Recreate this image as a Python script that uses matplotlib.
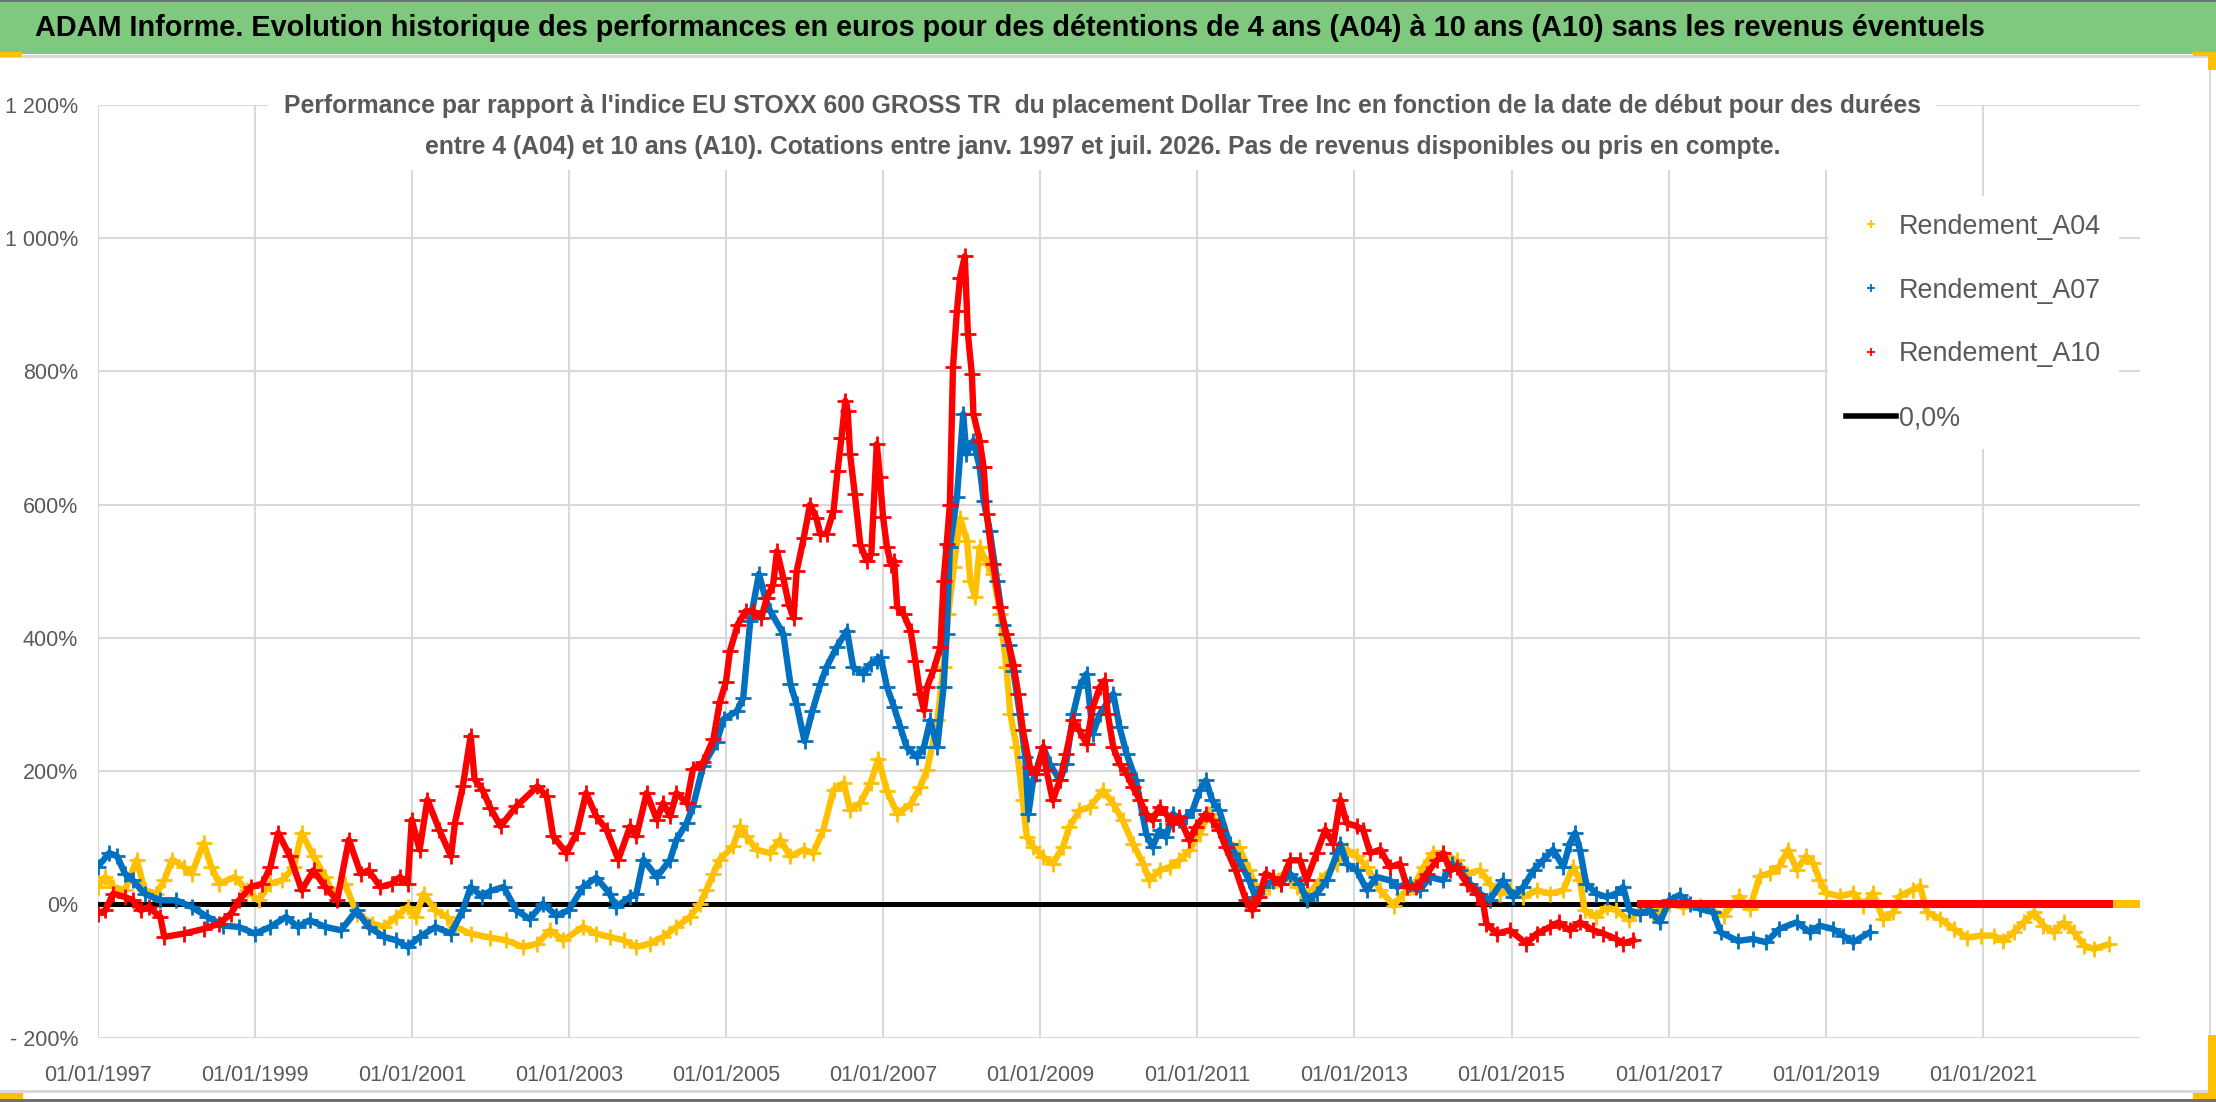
import matplotlib
matplotlib.use("Agg")
from matplotlib import pyplot as plt
from matplotlib.lines import Line2D
from matplotlib.patches import Rectangle

plt.rcParams['font.family'] = ['Liberation Sans', 'DejaVu Sans']

# (start year, performance %)
rdt_a04 = [
    (1997.0, 26), (1997.1, 41), (1997.2, 26), (1997.35, 21), (1997.5, 67), (1997.6, 21),
    (1997.75, 16), (1997.85, 36), (1997.95, 67), (1998.1, 56), (1998.2, 46), (1998.35, 92),
    (1998.45, 56), (1998.55, 31), (1998.75, 41), (1998.9, 21), (1999.05, 6), (1999.2, 31),
    (1999.35, 36), (1999.5, 56), (1999.6, 107), (1999.75, 72), (1999.9, 41), (2000.0, 16),
    (2000.15, 31), (2000.3, -14), (2000.5, -29), (2000.65, -34), (2000.8, -19), (2000.95, -4),
    (2001.05, -19), (2001.15, 16), (2001.3, -9), (2001.45, -19), (2001.55, -34), (2001.75, -44),
    (2002.0, -50), (2002.2, -54), (2002.42, -64), (2002.6, -59), (2002.76, -39), (2002.93, -54),
    (2003.18, -34), (2003.35, -44), (2003.52, -49), (2003.7, -54), (2003.86, -64), (2004.03, -59),
    (2004.2, -49), (2004.37, -34), (2004.54, -19), (2004.67, 1), (2004.75, 21), (2004.84, 46),
    (2004.92, 67), (2005.09, 87), (2005.18, 117), (2005.26, 102), (2005.39, 82), (2005.56, 77),
    (2005.69, 97), (2005.82, 72), (2005.99, 82), (2006.11, 77), (2006.24, 112), (2006.37, 172),
    (2006.5, 182), (2006.58, 142), (2006.71, 152), (2006.84, 182), (2006.94, 218), (2007.05, 170),
    (2007.18, 136), (2007.35, 150), (2007.47, 176), (2007.56, 201), (2007.69, 276), (2007.77, 356),
    (2007.83, 436), (2007.9, 506), (2007.98, 580), (2008.07, 545), (2008.11, 486), (2008.17, 461),
    (2008.23, 536), (2008.32, 511), (2008.4, 496), (2008.49, 436), (2008.57, 356), (2008.62, 286),
    (2008.7, 236), (2008.78, 156), (2008.83, 101), (2008.91, 86), (2009.04, 71), (2009.16, 61),
    (2009.29, 86), (2009.37, 116), (2009.5, 141), (2009.63, 146), (2009.8, 171), (2009.93, 151),
    (2010.05, 126), (2010.18, 91), (2010.31, 61), (2010.39, 36), (2010.52, 51), (2010.65, 56),
    (2010.77, 66), (2010.9, 81), (2011.03, 106), (2011.15, 136), (2011.28, 121), (2011.41, 91),
    (2011.53, 86), (2011.66, 51), (2011.79, 16), (2011.91, 26), (2012.04, 36), (2012.1, 46),
    (2012.27, 26), (2012.39, 11), (2012.56, 36), (2012.78, 61), (2012.9, 82), (2013.03, 72),
    (2013.16, 56), (2013.33, 21), (2013.5, -2), (2013.62, 16), (2013.75, 26), (2013.88, 56),
    (2014.0, 77), (2014.13, 77), (2014.3, 66), (2014.43, 46), (2014.6, 51), (2014.72, 31),
    (2014.85, 16), (2014.98, 21), (2015.15, 11), (2015.32, 21), (2015.49, 16), (2015.66, 21),
    (2015.78, 56), (2015.87, 36), (2015.93, -9), (2016.08, -19), (2016.21, -4), (2016.33, -9),
    (2016.5, -24), (2016.63, -9), (2016.8, -14), (2017.01, 1), (2017.18, -4), (2017.4, -2),
    (2017.7, -17), (2017.9, 12), (2018.03, -7), (2018.16, 42), (2018.29, 47), (2018.41, 57),
    (2018.52, 82), (2018.63, 52), (2018.75, 72), (2018.84, 62), (2018.92, 37), (2019.0, 17),
    (2019.18, 12), (2019.35, 17), (2019.48, -2), (2019.6, 17), (2019.73, -22), (2019.86, -12),
    (2019.94, 12), (2020.11, 22), (2020.2, 27), (2020.29, -12), (2020.46, -22), (2020.63, -37),
    (2020.8, -50), (2020.97, -47), (2021.14, -47), (2021.26, -55), (2021.39, -42), (2021.52, -27),
    (2021.65, -12), (2021.77, -32), (2021.9, -42), (2022.03, -27), (2022.16, -42), (2022.29, -62),
    (2022.41, -67), (2022.6, -60),
]

rdt_a07 = [
    (1997.0, 56), (1997.15, 77), (1997.25, 72), (1997.35, 46), (1997.45, 36), (1997.6, 16),
    (1997.8, 6), (1998.0, 6), (1998.2, -4), (1998.4, -19), (1998.6, -32), (1998.8, -34),
    (1999.0, -44), (1999.2, -34), (1999.4, -19), (1999.55, -34), (1999.7, -24), (1999.9, -34),
    (2000.1, -39), (2000.3, -9), (2000.45, -34), (2000.65, -49), (2000.8, -54), (2000.95, -64),
    (2001.1, -49), (2001.3, -34), (2001.5, -44), (2001.65, -9), (2001.75, 26), (2001.9, 11),
    (2002.0, 20), (2002.17, 26), (2002.33, -9), (2002.5, -22), (2002.67, 1), (2002.84, -17),
    (2003.0, -9), (2003.18, 26), (2003.35, 40), (2003.52, 16), (2003.6, -4), (2003.78, 11),
    (2003.86, 16), (2003.95, 67), (2004.12, 41), (2004.29, 67), (2004.37, 97), (2004.5, 122),
    (2004.58, 147), (2004.71, 208), (2004.88, 243), (2004.97, 278), (2005.14, 290), (2005.22, 310),
    (2005.31, 426), (2005.42, 496), (2005.5, 460), (2005.56, 441), (2005.73, 406), (2005.82, 331),
    (2005.9, 300), (2006.0, 245), (2006.1, 290), (2006.2, 330), (2006.28, 356), (2006.41, 386),
    (2006.54, 411), (2006.62, 356), (2006.75, 346), (2006.84, 361), (2006.92, 366), (2006.97, 371),
    (2007.05, 326), (2007.14, 296), (2007.22, 266), (2007.3, 236), (2007.43, 221), (2007.52, 236),
    (2007.6, 276), (2007.69, 236), (2007.77, 326), (2007.81, 406), (2007.85, 536), (2007.94, 611),
    (2008.02, 736), (2008.06, 676), (2008.15, 696), (2008.23, 656), (2008.28, 606), (2008.36, 560),
    (2008.45, 486), (2008.53, 420), (2008.6, 390), (2008.66, 350), (2008.74, 286), (2008.81, 221),
    (2008.85, 136), (2008.91, 186), (2009.04, 236), (2009.12, 211), (2009.25, 186), (2009.33, 211),
    (2009.42, 286), (2009.5, 326), (2009.59, 346), (2009.67, 256), (2009.76, 286), (2009.93, 316),
    (2010.01, 266), (2010.1, 226), (2010.22, 186), (2010.35, 106), (2010.43, 86), (2010.52, 111),
    (2010.6, 101), (2010.69, 136), (2010.77, 126), (2010.86, 131), (2010.94, 141), (2011.03, 171),
    (2011.11, 186), (2011.19, 156), (2011.28, 141), (2011.41, 91), (2011.53, 66), (2011.66, 36),
    (2011.74, 11), (2011.83, 26), (2011.96, 35), (2012.06, 31), (2012.18, 46), (2012.31, 31),
    (2012.39, 6), (2012.52, 16), (2012.65, 36), (2012.78, 77), (2012.82, 91), (2012.9, 61),
    (2013.03, 51), (2013.16, 21), (2013.28, 41), (2013.45, 36), (2013.54, 26), (2013.71, 31),
    (2013.83, 21), (2013.96, 41), (2014.13, 36), (2014.24, 61), (2014.34, 51), (2014.47, 31),
    (2014.6, 16), (2014.72, 6), (2014.89, 36), (2015.02, 11), (2015.15, 26), (2015.28, 51),
    (2015.4, 66), (2015.53, 82), (2015.66, 56), (2015.74, 91), (2015.81, 107), (2015.87, 82),
    (2015.95, 31), (2016.08, 16), (2016.21, 11), (2016.33, 16), (2016.42, 26), (2016.5, -9),
    (2016.63, -14), (2016.76, -9), (2016.89, -27), (2017.01, 6), (2017.14, 14), (2017.27, 1),
    (2017.4, -7), (2017.57, -12), (2017.66, -42), (2017.88, -55), (2018.07, -52), (2018.24, -57),
    (2018.41, -37), (2018.63, -27), (2018.8, -42), (2018.92, -32), (2019.09, -37), (2019.22, -47),
    (2019.35, -57), (2019.56, -42),
]

rdt_a10 = [
    (1997.0, -14), (1997.1, -9), (1997.2, 16), (1997.35, 11), (1997.45, 6), (1997.55, -9),
    (1997.65, -4), (1997.8, -19), (1997.85, -49), (1998.1, -44), (1998.35, -37), (1998.55, -29),
    (1998.7, -14), (1998.8, 6), (1998.95, 26), (1999.1, 31), (1999.2, 56), (1999.3, 107),
    (1999.45, 72), (1999.6, 21), (1999.75, 51), (1999.9, 26), (2000.05, 6), (2000.2, 97),
    (2000.35, 46), (2000.45, 51), (2000.6, 26), (2000.75, 31), (2000.85, 41), (2000.95, 31),
    (2001.0, 127), (2001.1, 82), (2001.2, 157), (2001.35, 112), (2001.5, 72), (2001.55, 122),
    (2001.65, 177), (2001.75, 253), (2001.8, 188), (2001.9, 172), (2002.0, 145), (2002.13, 117),
    (2002.33, 147), (2002.6, 177), (2002.72, 162), (2002.8, 102), (2002.97, 77), (2003.1, 107),
    (2003.22, 167), (2003.35, 132), (2003.48, 112), (2003.63, 67), (2003.78, 117), (2003.86, 102),
    (2003.99, 167), (2004.12, 127), (2004.2, 152), (2004.29, 132), (2004.37, 167), (2004.5, 152),
    (2004.58, 203), (2004.71, 213), (2004.84, 248), (2004.92, 303), (2005.0, 334), (2005.05, 380),
    (2005.15, 420), (2005.25, 440), (2005.35, 440), (2005.45, 430), (2005.52, 460), (2005.6, 480),
    (2005.65, 530), (2005.73, 490), (2005.8, 450), (2005.86, 430), (2005.9, 500), (2005.99, 550),
    (2006.07, 600), (2006.15, 580), (2006.2, 556), (2006.28, 556), (2006.37, 591), (2006.42, 650),
    (2006.47, 700), (2006.52, 756), (2006.55, 740), (2006.58, 676), (2006.64, 616), (2006.71, 540),
    (2006.79, 516), (2006.85, 526), (2006.92, 691), (2006.96, 641), (2007.0, 581), (2007.05, 536),
    (2007.1, 510), (2007.14, 516), (2007.18, 446), (2007.26, 436), (2007.35, 411), (2007.41, 366),
    (2007.47, 316), (2007.52, 291), (2007.56, 326), (2007.64, 351), (2007.73, 386), (2007.77, 486),
    (2007.81, 541), (2007.85, 600), (2007.89, 806), (2007.94, 891), (2007.98, 941), (2008.04, 973),
    (2008.08, 856), (2008.13, 796), (2008.15, 736), (2008.23, 696), (2008.28, 656), (2008.32, 586),
    (2008.4, 511), (2008.49, 446), (2008.57, 406), (2008.66, 360), (2008.72, 316), (2008.78, 261),
    (2008.87, 206), (2008.95, 196), (2009.04, 236), (2009.08, 201), (2009.16, 156), (2009.25, 186),
    (2009.33, 226), (2009.42, 276), (2009.5, 261), (2009.59, 241), (2009.67, 296), (2009.76, 326),
    (2009.82, 336), (2009.86, 286), (2009.93, 236), (2010.01, 211), (2010.1, 196), (2010.18, 176),
    (2010.27, 156), (2010.35, 136), (2010.43, 126), (2010.52, 146), (2010.6, 136), (2010.69, 121),
    (2010.77, 131), (2010.9, 96), (2010.98, 116), (2011.11, 136), (2011.19, 126), (2011.28, 111),
    (2011.36, 86), (2011.49, 51), (2011.62, 6), (2011.7, -9), (2011.79, 11), (2011.87, 46),
    (2011.96, 41), (2012.06, 30), (2012.18, 66), (2012.31, 66), (2012.39, 36), (2012.52, 77),
    (2012.63, 112), (2012.73, 91), (2012.82, 157), (2012.9, 122), (2013.03, 117), (2013.11, 112),
    (2013.2, 77), (2013.33, 82), (2013.45, 56), (2013.58, 61), (2013.67, 26), (2013.79, 26),
    (2013.92, 46), (2014.05, 66), (2014.13, 77), (2014.22, 51), (2014.3, 56), (2014.43, 31),
    (2014.56, 16), (2014.64, 1), (2014.68, -29), (2014.81, -44), (2014.98, -39), (2015.19, -59),
    (2015.32, -44), (2015.49, -34), (2015.6, -27), (2015.74, -39), (2015.87, -27), (2016.04, -39),
    (2016.17, -44), (2016.33, -52), (2016.42, -59), (2016.55, -54),
]

# periods where no value is available: shown as 0
a04_zero_years = [2022.62, 2023.0]
a07_zero_years = [2019.6, 2022.65]
a10_zero_years = [2016.6, 2022.65]

series_names = ["Rendement_A04", "Rendement_A07", "Rendement_A10"]
series_colors = ["#FFC000", "#0070C0", "#FF0000"]
zero_label = "0,0%"

x_tick_years = list(range(1997, 2022, 2))
x_tick_labels = ["01/01/%d" % y for y in x_tick_years]
y_ticks = [-200, 0, 200, 400, 600, 800, 1000, 1200]
y_tick_labels = ["- 200%", "0%", "200%", "400%", "600%", "800%", "1 000%", "1 200%"]

title = ("ADAM Informe. Evolution historique des performances en euros pour des "
         "détentions de 4 ans (A04) à 10 ans (A10) sans les revenus éventuels")
subtitle1 = ("Performance par rapport à l'indice EU STOXX 600 GROSS TR  du placement "
             "Dollar Tree Inc en fonction de la date de début pour des durées")
subtitle2 = ("entre 4 (A04) et 10 ans (A10). Cotations entre janv. 1997 et juil. 2026. "
             "Pas de revenus disponibles ou pris en compte.")

W, H = 2216, 1102
fig = plt.figure(figsize=(W / 100, H / 100), dpi=100)
fig.patch.set_facecolor("white")
renderer = fig.canvas.get_renderer()


def px(x0, y0, w, h, **kw):
    # rectangle in figure pixels, y measured from the top
    fig.patches.append(Rectangle((x0 / W, 1 - (y0 + h) / H), w / W, h / H,
                                 transform=fig.transFigure, figure=fig, **kw))


def fit_width(t, target):
    w = t.get_window_extent(renderer).width
    t.set_fontsize(t.get_fontsize() * target / w)


# title bar and sheet decorations
px(0, 0, W, 54, facecolor="#7FC97E", edgecolor="none", zorder=0)
px(0, 0, W, 2, facecolor="#707070", edgecolor="none", zorder=0)
px(0, 55, W, 3, facecolor="#D9D9D9", edgecolor="none", zorder=0)
px(0, 1090, W, 3, facecolor="#D9D9D9", edgecolor="none", zorder=0)
px(0, 1099, W, 3, facecolor="#707070", edgecolor="none", zorder=0)
px(2209, 58, 2, 1032, facecolor="#D9D9D9", edgecolor="none", zorder=0)
px(0, 52, 22, 5, facecolor="#FFC000", edgecolor="none", zorder=1)
px(2193, 52, 23, 4, facecolor="#FFC000", edgecolor="none", zorder=1)
px(2208, 52, 8, 18, facecolor="#FFC000", edgecolor="none", zorder=1)
px(2208, 1035, 8, 64, facecolor="#FFC000", edgecolor="none", zorder=1)
px(2193, 1093, 23, 6, facecolor="#FFC000", edgecolor="none", zorder=1)
px(0, 1093, 23, 6, facecolor="#FFC000", edgecolor="none", zorder=1)

t_title = fig.text(35 / W, 1 - 28 / H, title, ha="left", va="center", fontsize=20,
                   fontweight="bold", color="black")
fit_width(t_title, 1956)

ax = fig.add_axes([97.5 / W, 1 - 1037.5 / H, (2140 - 97.5) / W, (1037.5 - 105) / H])
ax.set_xlim(1997.0, 2023.0)
ax.set_ylim(-200, 1200)
for s in ax.spines.values():
    s.set_visible(False)
ax.set_xticks(x_tick_years)
ax.set_xticklabels(x_tick_labels)
ax.set_yticks(y_ticks)
ax.set_yticklabels(y_tick_labels)
ax.tick_params(length=0, colors="#595959", labelsize=15.5)
ax.tick_params(axis="x", pad=20)
ax.tick_params(axis="y", pad=14)
ax.grid(True, color="#D9D9D9", lw=1.5, zorder=0)
ax.set_axisbelow(True)

ax.axhline(0, color="black", lw=3.6, zorder=2)

zero_years = [a04_zero_years, a07_zero_years, a10_zero_years]
for k, pts in enumerate([rdt_a04, rdt_a07, rdt_a10]):
    xs = [p[0] for p in pts]
    ys = [p[1] for p in pts]
    c = series_colors[k]
    ax.plot(xs, ys, color=c, lw=4.6, marker="+", ms=11, mew=2.0, zorder=3 + k)
    zx = zero_years[k]
    ax.plot(zx, [0] * len(zx), color=c, lw=5.8, solid_capstyle="butt", zorder=3 + k)

# subtitle on a white patch hiding the grid
px(268, 84, 1668, 86, facecolor="white", edgecolor="none", zorder=1)
t_sub1 = fig.text(1103 / W, 1 - 106 / H, subtitle1, ha="center", va="center", fontsize=17,
                  fontweight="bold", color="#595959")
fit_width(t_sub1, 1641)
fig.text(1103 / W, 1 - 147 / H, subtitle2, ha="center", va="center",
         fontsize=t_sub1.get_fontsize(), fontweight="bold", color="#595959")

handles = [Line2D([], [], color=c, marker="+", ls="none", ms=6, mew=1.3)
           for c in series_colors]
handles.append(Line2D([], [], color="black", lw=4))
leg = ax.legend(handles, series_names + [zero_label], loc="upper left",
                bbox_to_anchor=(1828 / W, 1 - 196 / H), bbox_transform=fig.transFigure,
                frameon=True, facecolor="white", edgecolor="none", framealpha=1,
                fontsize=19.4, labelcolor="#595959", handlelength=1.86,
                handletextpad=0.12, labelspacing=1.41, borderpad=0.65, borderaxespad=0)
leg.set_zorder(10)

fig.savefig("out.png", dpi=100, facecolor="white")
